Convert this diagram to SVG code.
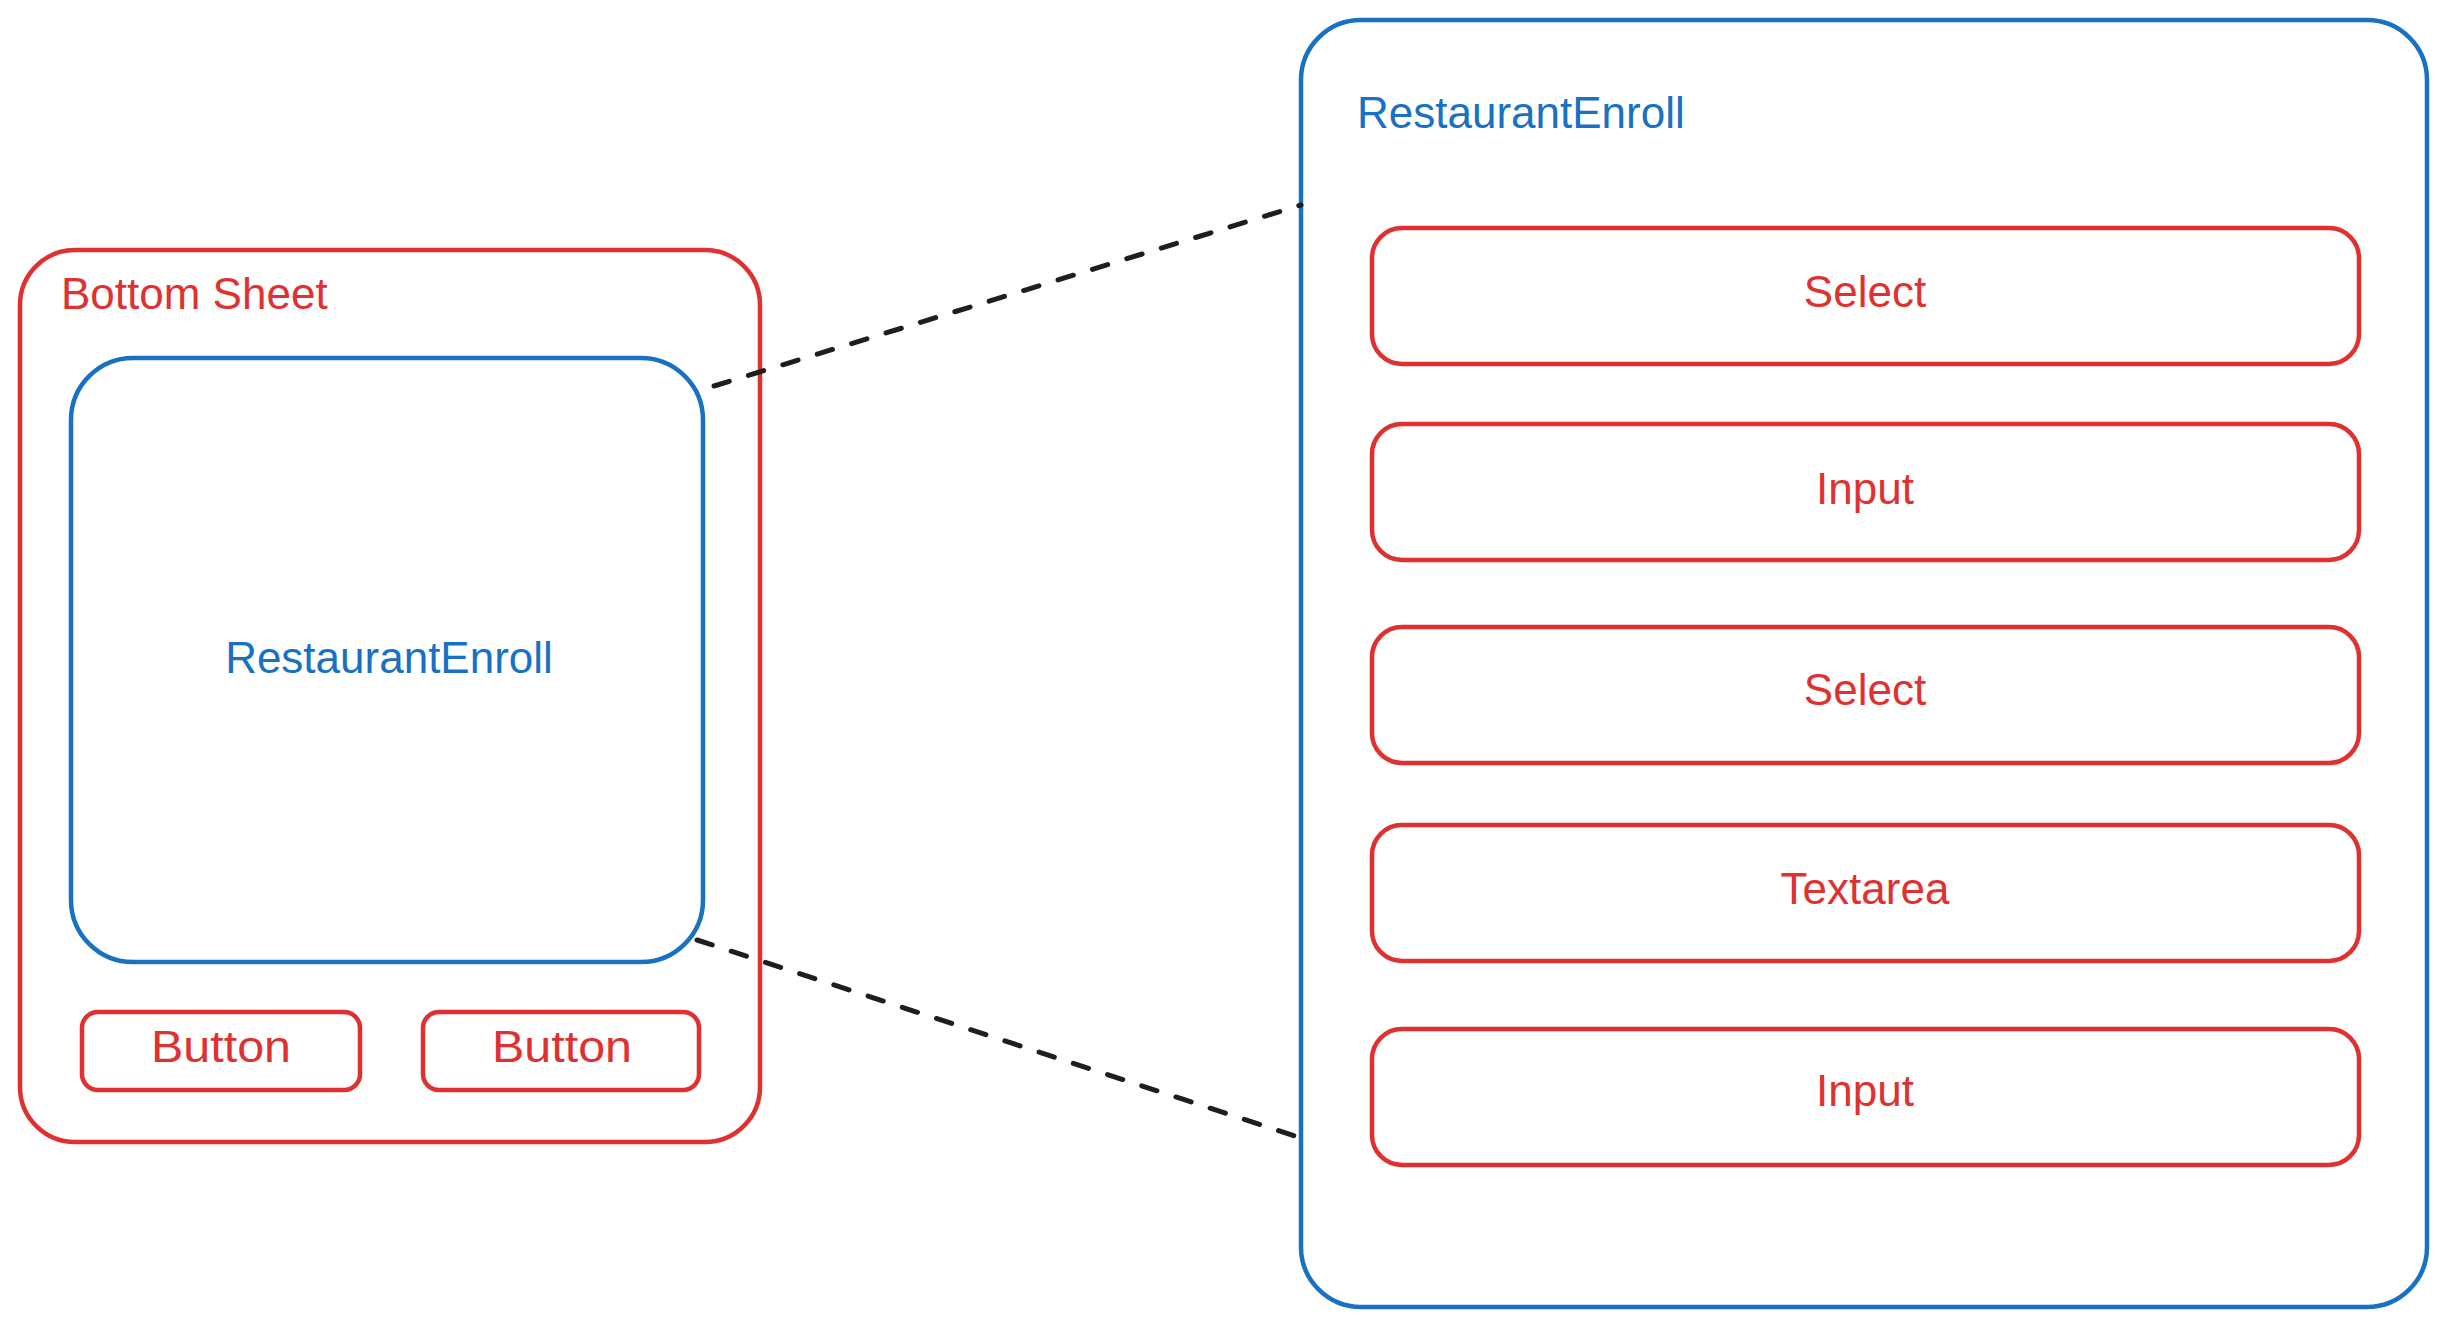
<svg xmlns="http://www.w3.org/2000/svg" width="2447" height="1330" viewBox="0 0 2447 1330">
<style>
.red{fill:none;stroke:#e03131;stroke-width:4.5;stroke-linejoin:round}
.blue{fill:none;stroke:#1971c2;stroke-width:4.5;stroke-linejoin:round}
.lbl{font-family:"Liberation Sans",Arial,sans-serif;font-size:44px}
.tr{fill:#e03131}
.tb{fill:#1971c2}
.mid{text-anchor:middle}
.dash{fill:none;stroke:#1e1e1e;stroke-width:5;stroke-linecap:round;stroke-dasharray:16 20}
</style>
<rect width="2447" height="1330" fill="#ffffff"/>
<g id="bottom-sheet">
<rect class="red" x="20" y="250" width="740" height="892" rx="55" ry="55"/>
<text class="lbl tr" x="61" y="309" font-size="45">Bottom Sheet</text>
</g>
<g id="restaurant-enroll-small">
<rect class="blue" x="71" y="358" width="632" height="604" rx="62" ry="62"/>
<text class="lbl tb mid" x="389" y="673">RestaurantEnroll</text>
</g>
<g id="button-1">
<rect class="red" x="82" y="1012" width="278" height="78" rx="16" ry="16"/>
<text class="lbl tr mid" x="221" y="1062" textLength="140" lengthAdjust="spacingAndGlyphs">Button</text>
</g>
<g id="button-2">
<rect class="red" x="423" y="1012" width="276" height="78" rx="16" ry="16"/>
<text class="lbl tr mid" x="562" y="1062" textLength="140" lengthAdjust="spacingAndGlyphs">Button</text>
</g>
<g id="restaurant-enroll-detail">
<rect class="blue" x="1301" y="20" width="1126" height="1287" rx="60" ry="60"/>
<text class="lbl tb" x="1357" y="128">RestaurantEnroll</text>
</g>
<g id="select-1">
<rect class="red" x="1372" y="228" width="987" height="136" rx="30" ry="30"/>
<text class="lbl tr mid" x="1865" y="307">Select</text>
</g>
<g id="input-1">
<rect class="red" x="1372" y="424" width="987" height="136" rx="30" ry="30"/>
<text class="lbl tr mid" x="1865" y="504">Input</text>
</g>
<g id="select-2">
<rect class="red" x="1372" y="627" width="987" height="136" rx="30" ry="30"/>
<text class="lbl tr mid" x="1865" y="705">Select</text>
</g>
<g id="textarea">
<rect class="red" x="1372" y="825" width="987" height="136" rx="30" ry="30"/>
<text class="lbl tr mid" x="1865" y="904">Textarea</text>
</g>
<g id="input-2">
<rect class="red" x="1372" y="1029" width="987" height="136" rx="30" ry="30"/>
<text class="lbl tr mid" x="1865" y="1106">Input</text>
</g>
<g id="connectors">
<line class="dash" x1="714" y1="386" x2="1301" y2="205"/>
<line class="dash" x1="697" y1="940" x2="1301" y2="1138"/>
</g>
</svg>
